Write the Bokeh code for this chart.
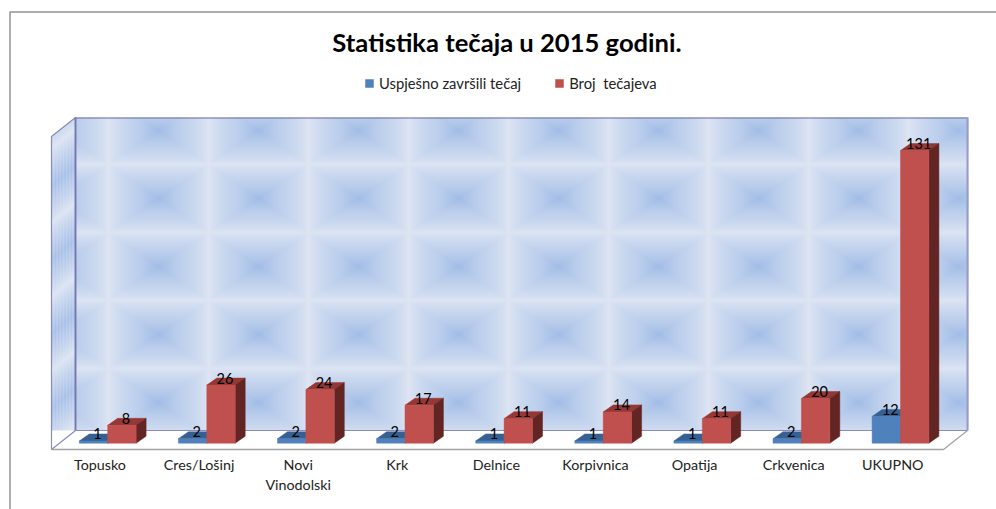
from bokeh.plotting import figure
from bokeh.embed import file_html
from bokeh.resources import INLINE
from bokeh.core.properties import value
from bokeh.models import Range1d, FixedTicker, Legend, LegendItem, LinearAxis
import numpy as np

# ---- data ----
categories = ["Topusko", "Cres/Lošinj", "Novi\nVinodolski", "Krk", "Delnice",
              "Korpivnica", "Opatija", "Crkvenica", "UKUPNO"]
zavrsili = [1, 2, 2, 2, 1, 1, 1, 2, 12]
tecajevi = [8, 26, 24, 17, 11, 14, 11, 20, 131]
series_names = ["Uspješno završili tečaj", "Broj  tečajeva"]
title_text = "Statistika tečaja u 2015 godini."

# ---- layout constants (page pixels) ----
W, H = 996, 509
X0, PX_X = 100.5, 99.1          # page x of category 0, px per category
Y0, PX_Y = 442.7, 2.234         # page y of value 0, px per unit
fx = lambda px: (np.asarray(px, float) - X0) / PX_X
fy = lambda py: (Y0 - np.asarray(py, float)) / PX_Y

p = figure(width=W, height=H, output_backend="svg", toolbar_location=None,
           x_range=Range1d(float(fx(0)), float(fx(W))), y_range=Range1d(float(fy(H)), float(fy(0))),
           min_border_left=0, min_border_right=0, min_border_top=0, min_border_bottom=0,
           x_axis_location=None, y_axis_location=None)
p.grid.visible = False
p.outline_line_color = None
p.background_fill_color = "white"

# ---- outer chart border ----
p.line(fx([9.5, 9.5, 996]), fy([509, 11.5, 11.5]), line_color="#929292", line_width=1.5)

# ---- title ----
p.text(x=[float(fx(506.5))], y=[float(fy(41.5))], text=[title_text], text_font=value("Lato"),
       text_font_size="25.6px", text_font_style="bold", text_color="#000000",
       text_align="center", text_baseline="middle")

# ---- real category axis, fixed at the floor's front edge ----
ax = LinearAxis(ticker=FixedTicker(ticks=[i - 0.01 for i in range(len(categories))]),
                major_label_overrides={i - 0.01: c for i, c in enumerate(categories)},
                fixed_location=float(fy(449)),
                axis_line_color=None, major_tick_line_color=None, minor_tick_line_color=None,
                major_label_text_font="Lato", major_label_text_font_size="14.3px",
                major_label_text_color="#222222", major_label_standoff=0)
p.add_layout(ax, "below")

# ---- wall texture ----
WL, WR, WT, WB = 51, 968, 117, 450
xs, ys = np.meshgrid(np.arange(WL, WR) + .5, np.arange(WT, WB) + .5)
light = np.array([224, 231, 244.]); dark = np.array([160, 188, 231.])
u = np.abs(((xs - 158) + 50) % 100 - 50) / 50
v = np.abs(((ys - 198) + 34) % 68 - 34) / 34
c = 1 - np.maximum(u, v)            # 1 at the cell centre, 0 at the edge
t = 0.74 * c ** 0.65 + 0.26 * c ** 4
rgb = light[None, None, :] + (dark - light)[None, None, :] * t[..., None]
# left wall
dyy = (xs - 51) * (19.5 / 24)
vl = np.abs(((ys + dyy - 148) + 37) % 74 - 37) / 37
tl = (vl ** .8) * (0.55 + 0.45 * (np.sin((xs - 51) * 2 * np.pi / 3.2) * .5 + .5))
left = light[None, None, :] + (dark - light)[None, None, :] * tl[..., None]
is_left = xs < 75
rgb = np.where(is_left[..., None], left, rgb)
alpha = np.ones_like(xs) * 255
alpha[(ys > 430)] = 0                                 # floor
alpha[is_left & ((ys > 449 - (xs - 51) * 19 / 24) | (ys < 136 - (xs - 51) * 19 / 24))] = 0
img = np.zeros(xs.shape, dtype=np.uint32)
v8 = img.view(dtype=np.uint8).reshape(xs.shape + (4,))
v8[..., :3] = rgb.astype(np.uint8)
v8[..., 3] = alpha.astype(np.uint8)
p.image_rgba(image=[img[::-1]], x=float(fx(WL)), y=float(fy(WB)), dw=(WR - WL) / PX_X, dh=(WB - WT) / PX_Y)

# ---- wall and floor edges ----
p.line(fx([51, 51, 75, 75]), fy([449, 136, 117, 430]), line_color="#8a8abb", line_width=1.2)
p.line(fx([75, 967]), fy([117.5, 117.5]), line_color="#6c6ca0", line_width=1.2)
p.line(fx([75, 75]), fy([117, 430]), line_color="#7676b0", line_width=1.8)
p.line(fx([967, 967]), fy([117, 430]), line_color="#9a9ac8", line_width=2)
p.line(fx([51, 75, 967]), fy([449, 430, 430]), line_color="#8a8abb", line_width=1.2)
p.line(fx([51, 943, 967]), fy([449, 449, 430]), line_color="#a3a3a3", line_width=1.3)

# ---- 3-D bars ----
BAR_W = 28.4 / PX_X
SHIFT = 6.7 / PX_X              # bar pair sits at the mid-depth of the floor
DX, DY = 10 / PX_X, 7 / PX_Y

def bars(vals, offs, front, top, side):
    x0 = np.arange(len(vals)) + offs + SHIFT
    x1 = x0 + BAR_W
    vals = np.array(vals, float)
    p.patches([[a, a + DX, b + DX, b] for a, b in zip(x0, x1)],
              [[t, t + DY, t + DY, t] for t in vals], fill_color=top, line_color=top, line_width=.5)
    p.patches([[b, b + DX, b + DX, b] for b in x1],
              [[t, t + DY, DY, 0] for t in vals], fill_color=side, line_color=side, line_width=.5)
    return p.quad(left=x0, right=x1, bottom=0, top=vals, fill_color=front, line_color=front, line_width=.5)

r_blue = bars(zavrsili, -BAR_W, "#4f81bd", "#376092", "#254061")
r_red = bars(tecajevi, 0.0, "#c0504d", "#953735", "#632523")

for vals, off in ((zavrsili, -BAR_W / 2), (tecajevi, BAR_W / 2)):
    p.text(x=[i + off + SHIFT + DX / 2 for i in range(len(vals))], y=vals, text=[str(v) for v in vals],
           text_font=value("Lato"), text_font_size="14.5px", text_color="#000000",
           text_align="center", text_baseline="middle", y_offset=-7, x_offset=-1)

# ---- legend ----
legend = Legend(items=[LegendItem(label=series_names[0], renderers=[r_blue]),
                       LegendItem(label=series_names[1], renderers=[r_red])],
                orientation="horizontal", location=(364, H - 92), background_fill_alpha=0,
                border_line_color=None, glyph_width=10, glyph_height=10, label_standoff=5,
                spacing=33, padding=0, margin=0, label_text_font="Lato", label_text_font_size="14.8px",
                label_text_color="#222222", label_height=14)
p.add_layout(legend, "center")

open("out.html", "w").write(file_html(p, INLINE))
